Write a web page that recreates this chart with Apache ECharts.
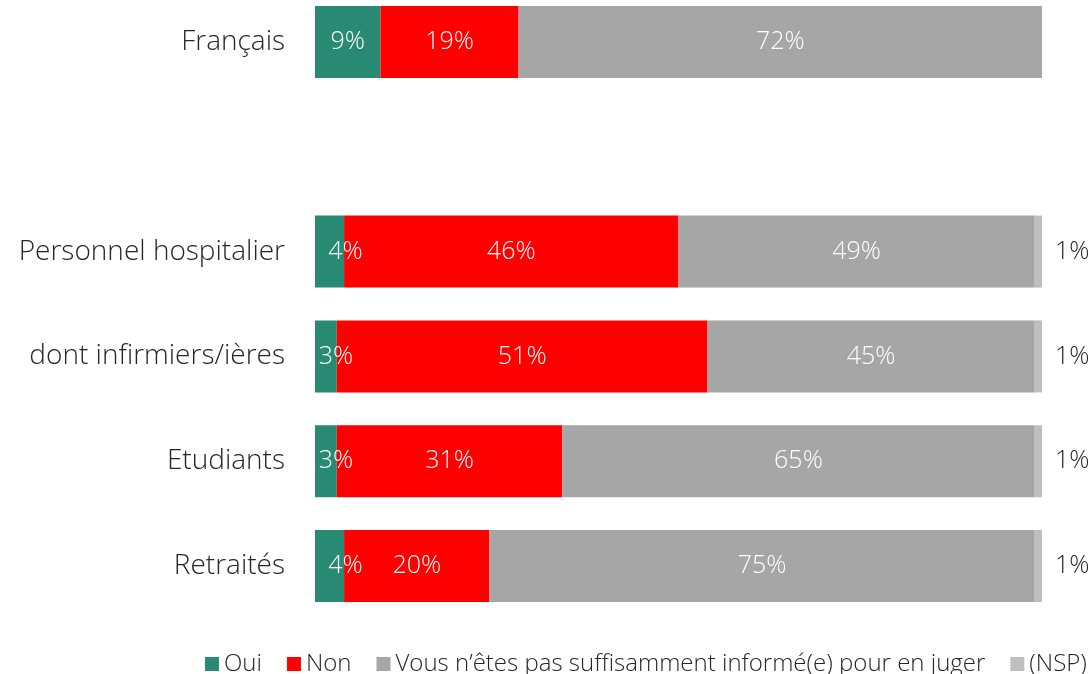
<!DOCTYPE html>
<html style="height: 100%">
<head>
  <meta charset="utf-8">
  <title>Sondage</title>
  <style type="text/css">
    body { margin: 0; height: 100%; background: #fff; }
    #container { width: 1092px; height: 674px; }
  </style>
</head>
<body>
  <div id="container"></div>
  <script type="text/javascript" src="https://cdn.jsdelivr.net/npm/echarts@6/dist/echarts.min.js"></script>
  <script type="text/javascript">
    var categories = ['Français', '', 'Personnel hospitalier', 'dont infirmiers/ières', 'Etudiants', 'Retraités'];
    var oui = [9, null, 4, 3, 3, 4];
    var non = [19, null, 46, 51, 31, 20];
    var pasInforme = [72, null, 49, 45, 65, 75];
    var nsp = [null, null, 1, 1, 1, 1];

    var FONT = '"Open Sans", Lato, sans-serif';
    var chart = echarts.init(document.getElementById('container'));

    // narrow segments: label pushed right so it stays readable (as in the original)
    function nudgeSmall(data) {
      return data.map(function (v) {
        if (v != null && v < 5) {
          return { value: v, label: { offset: [v * 6 - 8, 0] } };
        }
        return v;
      });
    }

    function seg(name, data, color, inside) {
      return {
        name: name,
        type: 'bar',
        stack: 'total',
        data: data,
        barWidth: 72,
        itemStyle: { color: color },
        label: {
          show: true,
          position: inside ? 'inside' : 'right',
          distance: 13,
          color: inside ? '#ffffff' : '#262626',
          fontFamily: FONT,
          fontWeight: 300,
          fontSize: 25,
          formatter: function (p) { return p.value + '%'; }
        },
        emphasis: { disabled: true }
      };
    }

    chart.setOption({
      animation: false,
      textStyle: { fontFamily: FONT },
      grid: { left: 315, right: 50, top: 42, bottom: 108, containLabel: false },
      legend: {
        left: 200,
        top: 647,
        itemWidth: 14,
        itemHeight: 14,
        itemGap: 25,
        icon: 'rect',
        textStyle: { fontFamily: FONT, fontWeight: 300, fontSize: 24, color: '#262626' },
        data: ['Oui', 'Non', 'Vous n’êtes pas suffisamment informé(e) pour en juger', '(NSP)']
      },
      xAxis: {
        type: 'value',
        min: 0,
        max: 100,
        show: false
      },
      yAxis: {
        type: 'category',
        inverse: true,
        boundaryGap: false,
        data: categories,
        axisLine: { show: false },
        axisTick: { show: false },
        splitLine: { show: false },
        axisLabel: { margin: 30, fontFamily: FONT, fontWeight: 300, fontSize: 28, color: '#262626' }
      },
      series: [
        seg('Oui', nudgeSmall(oui), '#288A72', true),
        seg('Non', non, '#FF0000', true),
        seg('Vous n’êtes pas suffisamment informé(e) pour en juger', pasInforme, '#A6A6A6', true),
        seg('(NSP)', nsp, '#BFBFBF', false)
      ]
    });
  </script>
</body>
</html>
